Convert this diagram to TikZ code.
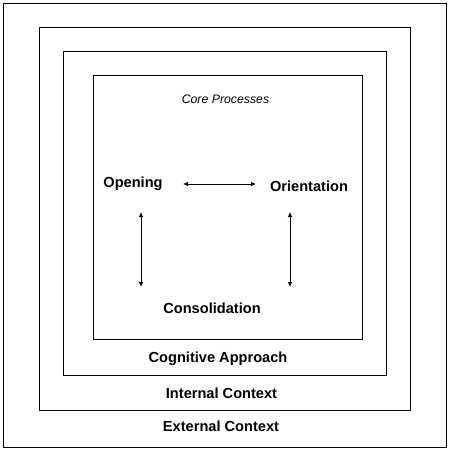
\documentclass[tikz,border=0pt]{standalone}
\usepackage{fontspec}
\setmainfont{Liberation Sans}
\usetikzlibrary{arrows.meta}
\begin{document}
\begin{tikzpicture}[x=1pt,y=-1pt,
  frame/.style={draw=black,line width=0.9pt},
  lbl/.style={font=\bfseries\fontsize{14.6}{16}\selectfont,inner sep=0pt},
  conn/.style={line width=0.8pt,{Latex[length=5pt,width=4.5pt]}-{Latex[length=5pt,width=4.5pt]}}]
\useasboundingbox (0,0) rectangle (450,450);
\fill[white] (0,0) rectangle (450,450);
\draw[frame] (3,3) rectangle (446.5,447);
\draw[frame] (39.5,27) rectangle (410,410);
\draw[frame] (63.5,51) rectangle (386,375);
\draw[frame] (93,75) rectangle (362,339);
\node[inner sep=0pt,font=\itshape\fontsize{12.3}{14}\selectfont] (core) at (225.5,99) {Core Processes};
\node[lbl] (open) at (133,184) {Opening};
\node[lbl] (orient) at (309,186) {Orientation};
\node[lbl] (cons) at (212,308) {Consolidation};
\node[lbl] (cog) at (218,358.5) {Cognitive Approach};
\node[lbl] (int) at (221.5,393) {Internal Context};
\node[lbl] (ext) at (221,426.5) {External Context};
\coordinate (h1) at (183,184);
\coordinate (h2) at (256,184);
\coordinate (l1) at (141,212);
\coordinate (l2) at (141,287);
\coordinate (r1) at (290,212);
\coordinate (r2) at (290,287);
\draw[conn] (h1) -- (h2);
\draw[conn] (l1) -- (l2);
\draw[conn] (r1) -- (r2);
\end{tikzpicture}
\end{document}
